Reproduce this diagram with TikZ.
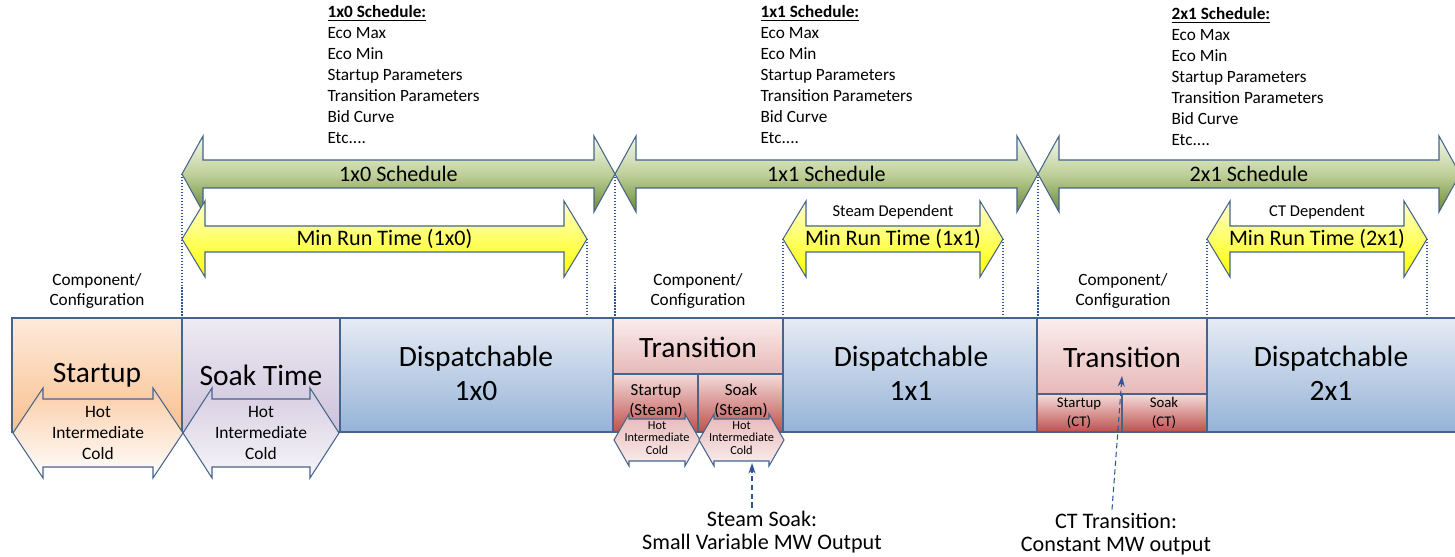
\documentclass[tikz,border=0pt]{standalone}
\usepackage{fontspec}
\setmainfont{Carlito}
\usetikzlibrary{arrows.meta}

\definecolor{edge}{HTML}{46648C}
\definecolor{guideblue}{HTML}{2F5597}
\definecolor{greenTop}{HTML}{F4F8EC}
\definecolor{greenMid}{HTML}{BFD09A}
\definecolor{greenBot}{HTML}{6B8A35}
\definecolor{yellowTop}{HTML}{FFFFCC}
\definecolor{yellowMid}{HTML}{FFFF66}
\definecolor{yellowBot}{HTML}{FFFF00}
\definecolor{startTop}{HTML}{FDEADA}
\definecolor{startBot}{HTML}{FAC090}
\definecolor{soakTop}{HTML}{EEEBF3}
\definecolor{soakBot}{HTML}{CCC1DA}
\definecolor{dispTop}{HTML}{E6ECF5}
\definecolor{dispBot}{HTML}{95B3D7}
\definecolor{transTop}{HTML}{FBEDED}
\definecolor{transBot}{HTML}{E6B9B8}
\definecolor{partTop}{HTML}{F2DCDB}
\definecolor{partBot}{HTML}{C0504D}

\newcommand{\etcdots}{Etc....}

\begin{document}
\begin{tikzpicture}[
		x=0.02cm, y=-0.02cm,
		line width=0.6pt,
		every node/.style={inner sep=0pt, align=center, text=black},
		outline/.style={draw=edge},
		schedarrow/.style={outline, top color=greenTop, bottom color=greenBot, middle color=greenMid},
		runarrow/.style={outline, top color=yellowTop, bottom color=yellowBot, middle color=yellowMid},
		startupbox/.style={outline, top color=startTop, bottom color=startBot},
		soakbox/.style={outline, top color=soakTop, bottom color=soakBot},
		dispbox/.style={outline, top color=dispTop, bottom color=dispBot},
		transbox/.style={outline, top color=transTop, bottom color=transBot},
		partbox/.style={outline, top color=partTop, bottom color=partBot},
		starthex/.style={outline, top color=startBot!80!white, bottom color=white},
		soakhex/.style={outline, top color=soakBot!80!white, bottom color=soakTop!50!white},
		smallhex/.style={outline, top color=transBot, bottom color=transTop},
		guide/.style={draw=guideblue, densely dotted, line width=0.7pt},
		notearrow/.style={draw=guideblue, densely dashed, line width=0.6pt, -{Stealth[length=6pt, width=4pt]}},
		listtext/.style={font=\fontsize{9.8}{11.9}\selectfont},
		arrowtext/.style={font=\fontsize{12.6}{15}\selectfont},
		bigtext/.style={font=\fontsize{16.8}{19.3}\selectfont},
		labeltext/.style={font=\fontsize{9.8}{11.9}\selectfont},
		deptext/.style={font=\fontsize{9.4}{11}\selectfont},
		steamtext/.style={font=\fontsize{9.6}{11.3}\selectfont},
		cttext/.style={font=\fontsize{8.4}{10.8}\selectfont},
		hextext/.style={font=\fontsize{9.9}{11.7}\selectfont},
		tinytext/.style={font=\fontsize{7}{7}\selectfont},
		notetext/.style={font=\fontsize{12.6}{12.9}\selectfont}
		]

	\useasboundingbox (0,0) rectangle (1455,557);
	\clip (0,0) rectangle (1455,557);

	% Schedule lists
	\foreach \sx/\sy/\cfg in {327/18/1x0, 760/18/1x1, 1171/20/2x1}{
		\node[listtext, anchor=base west] (list\cfg) at (\sx,\sy) {\textbf{\underline{\cfg\ Schedule:}}};
		\foreach \item [count=\i] in {Eco Max, Eco Min, Startup Parameters, Transition Parameters, Bid Curve, \etcdots}{
			\node[listtext, anchor=base west] (list\cfg-\i) at (\sx,\sy+21*\i) {\item};
		}
	}

	% Guide lines
	\foreach \x/\y in {182/174, 587/239, 615/174, 783/239, 1003/239, 1038/174, 1207/239, 1427/239}{
		\draw[guide] (\x,\y) -- (\x,318);
	}

	% Schedule arrows
	\foreach \xa/\xb/\cfg in {182/615/1x0, 615/1038/1x1, 1038/1460/2x1}{
		\draw[schedarrow] (\xa,174) -- (\xa+21,136) -- (\xa+21,160) -- (\xb-21,160) -- (\xb-21,136) -- (\xb,174)
			-- (\xb-21,212) -- (\xb-21,188) -- (\xa+21,188) -- (\xa+21,212) -- cycle;
		\node[arrowtext] (sched\cfg) at ({(\xa+\xb)/2},174) {\cfg\ Schedule};
	}

	% Min run time arrows
	\foreach \xa/\xb/\cfg in {182/587/1x0, 783/1003/1x1, 1207/1427/2x1}{
		\draw[runarrow] (\xa,239) -- (\xa+23,201) -- (\xa+23,226) -- (\xb-23,226) -- (\xb-23,201) -- (\xb,239)
			-- (\xb-23,277) -- (\xb-23,252) -- (\xa+23,252) -- (\xa+23,277) -- cycle;
		\node[arrowtext] (run\cfg) at ({(\xa+\xb)/2},239) {Min Run Time (\cfg)};
	}
	\node[deptext] (dep1x1) at (893,212) {Steam Dependent};
	\node[deptext] (dep2x1) at (1317,212) {CT Dependent};

	% Component labels
	\node[labeltext] (comp1) at (97,291) {Component/\\Configuration};
	\node[labeltext] (comp2) at (698,291) {Component/\\Configuration};
	\node[labeltext] (comp3) at (1123,291) {Component/\\Configuration};

	% Bar
	\path[startupbox] (12,318) rectangle (182,432);
	\path[soakbox] (182,318) rectangle (340,432);
	\path[dispbox] (340,318) rectangle (613,432);
	\path[transbox] (613,318) rectangle (783,374);
	\path[partbox] (613,374) rectangle (698,432);
	\path[partbox] (698,374) rectangle (783,432);
	\path[dispbox] (783,318) rectangle (1037,432);
	\path[transbox] (1037,318) rectangle (1207,394);
	\path[partbox] (1037,394) rectangle (1122,432);
	\path[partbox] (1122,394) rectangle (1207,432);
	\path[dispbox] (1207,318) rectangle (1460,432);

	\node[bigtext] (startup) at (97,375) {Startup};
	\node[bigtext] (soak) at (261,375) {Soak Time};
	\node[bigtext] (disp1x0) at (476,373) {Dispatchable\\1x0};
	\node[bigtext] (trans1x1) at (698,347) {Transition};
	\node[steamtext] (startSteam) at (656,401) {Startup\\(Steam)};
	\node[steamtext] (soakSteam) at (741,401) {Soak\\(Steam)};
	\node[bigtext] (disp1x1) at (911,373) {Dispatchable\\1x1};
	\node[bigtext] (trans2x1) at (1122,357) {Transition};
	\node[cttext] (startCT) at (1079,413) {Startup\\(CT)};
	\node[cttext] (soakCT) at (1164,413) {Soak\\(CT)};
	\node[bigtext] (disp2x1) at (1331,373) {Dispatchable\\2x1};

	% Hot / Intermediate / Cold
	\foreach \xa/\xb/\hl/\kind/\name in {13/183/30/starthex/hexStartup, 183/339/29/soakhex/hexSoak}{
		\draw[\kind] (\xa,433) -- (\xa+\hl,388) -- (\xa+\hl,399) -- (\xb-\hl,399) -- (\xb-\hl,388) -- (\xb,433)
			-- (\xb-\hl,478) -- (\xb-\hl,467) -- (\xa+\hl,467) -- (\xa+\hl,478) -- cycle;
		\node[hextext] (\name) at ({(\xa+\xb)/2},433) {Hot\\Intermediate\\Cold};
	}
	\foreach \xa/\xb/\name in {614/700/hexStartSteam, 699/784/hexSoakSteam}{
		\draw[smallhex] (\xa,440) -- (\xa+15,414) -- (\xa+15,419) -- (\xb-15,419) -- (\xb-15,414) -- (\xb,440)
			-- (\xb-15,466) -- (\xb-15,461) -- (\xa+15,461) -- (\xa+15,466) -- cycle;
		\node[tinytext] (\name) at ({(\xa+\xb)/2},438) {Hot\\Intermediate\\Cold};
	}

	% Notes
	\node[notetext] (soakNote) at (762,532) {Steam Soak:\\Small Variable MW Output};
	\node[notetext] (ctNote) at (1116,534) {CT Transition:\\Constant MW output};
	\coordinate (soakTip) at (752,463);
	\coordinate (ctTip) at (1122,376);
	\draw[notearrow] (soakTip |- soakNote.north) ++(0,-3) -- (soakTip);
	\draw[notearrow] (ctNote.north) ++(-4,-3) -- (ctTip);

\end{tikzpicture}
\end{document}
